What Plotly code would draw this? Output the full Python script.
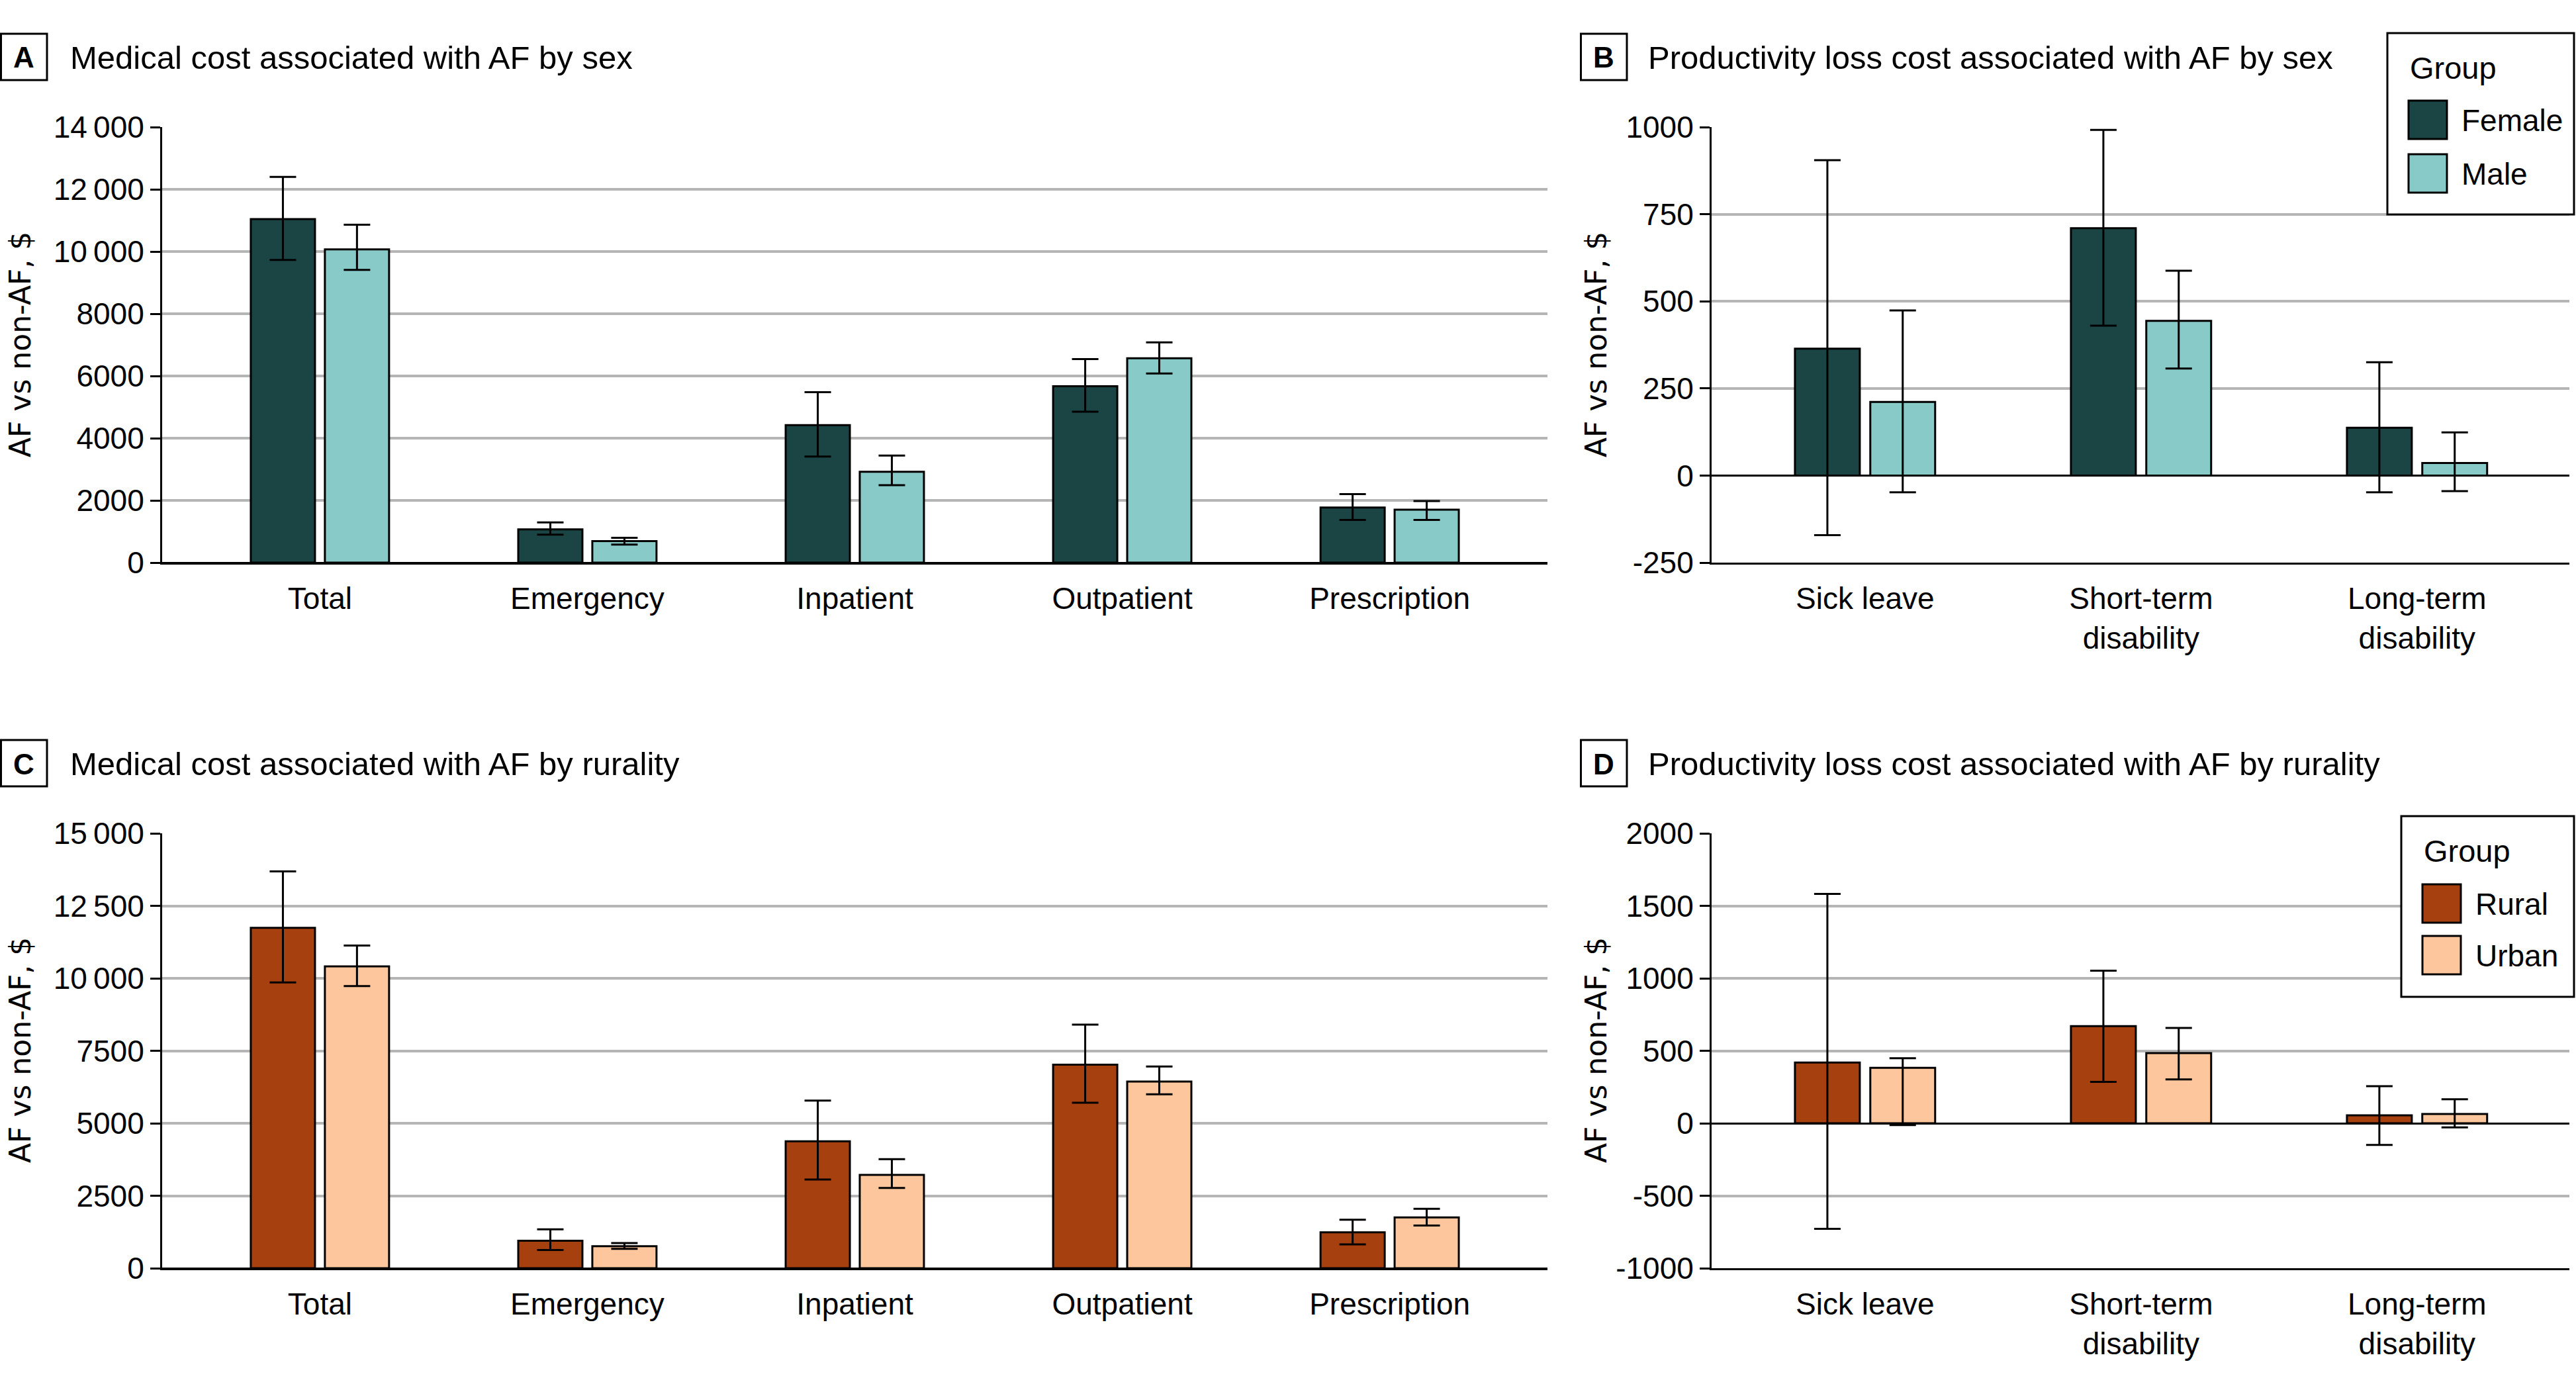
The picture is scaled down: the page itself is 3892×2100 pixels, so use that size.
import plotly.graph_objects as go

W, H = 3892, 2100

# ---------------- DATA ----------------
med_categories = ["Total", "Emergency", "Inpatient", "Outpatient", "Prescription"]
prod_categories = ["Sick leave", "Short-term<br>disability", "Long-term<br>disability"]

# Panel A: medical cost by sex
a_female = [11040, 1070, 4420, 5670, 1770]
a_female_lo = [9730, 900, 3410, 4850, 1370]
a_female_hi = [12400, 1290, 5480, 6540, 2200]
a_male = [10070, 690, 2920, 6570, 1700]
a_male_lo = [9410, 580, 2490, 6080, 1370]
a_male_hi = [10860, 800, 3440, 7080, 1980]

# Panel B: productivity loss by sex
b_female = [364, 710, 137]
b_female_lo = [-171, 430, -48]
b_female_hi = [905, 992, 325]
b_male = [211, 444, 36]
b_male_lo = [-48, 307, -45]
b_male_hi = [474, 588, 124]

# Panel C: medical cost by rurality
c_rural = [11740, 950, 4380, 7020, 1240]
c_rural_lo = [9860, 630, 3060, 5710, 820]
c_rural_hi = [13690, 1340, 5780, 8400, 1670]
c_urban = [10410, 760, 3220, 6440, 1750]
c_urban_lo = [9730, 670, 2770, 6000, 1470]
c_urban_hi = [11130, 870, 3760, 6960, 2050]

# Panel D: productivity loss by rurality
d_rural = [419, 670, 55]
d_rural_lo = [-728, 285, -149]
d_rural_hi = [1582, 1052, 256]
d_urban = [382, 484, 64]
d_urban_lo = [-12, 303, -29]
d_urban_hi = [449, 658, 166]

a_ticks = [0, 2000, 4000, 6000, 8000, 10000, 12000, 14000]
a_ticktext = ["0", "2000", "4000", "6000", "8000", "10\u2009000", "12\u2009000", "14\u2009000"]
b_ticks = [-250, 0, 250, 500, 750, 1000]
b_ticktext = ["-250", "0", "250", "500", "750", "1000"]
c_ticks = [0, 2500, 5000, 7500, 10000, 12500, 15000]
c_ticktext = ["0", "2500", "5000", "7500", "10\u2009000", "12\u2009500", "15\u2009000"]
d_ticks = [-1000, -500, 0, 500, 1000, 1500, 2000]
d_ticktext = ["-1000", "-500", "0", "500", "1000", "1500", "2000"]

FEMALE = "#1b4444"
MALE = "#88cac8"
RURAL = "#a6400f"
URBAN = "#fdc69c"

TXT = "Liberation Sans, Arial, sans-serif"
YT = "DejaVu Sans, Verdana, sans-serif"


def px(x):
    return x / W


def py(y):
    return 1 - y / H


fig = go.Figure()


def add_bars(xref, yref, cats, vals, lo, hi, color, name, offset, width):
    fig.add_trace(go.Bar(
        x=cats, y=vals, name=name, xaxis=xref, yaxis=yref,
        marker=dict(color=color, line=dict(color="black", width=3)),
        offset=offset, width=width, showlegend=False,
        error_y=dict(type="data", symmetric=False,
                     array=[h - v for h, v in zip(hi, vals)],
                     arrayminus=[v - l for v, l in zip(vals, lo)],
                     color="black", thickness=3, width=20),
    ))


bw1, gap1 = 0.24, 0.037
bw2, gap2 = 0.235, 0.038
add_bars("x", "y", med_categories, a_female, a_female_lo, a_female_hi, FEMALE, "Female", -bw1 - gap1 / 2, bw1)
add_bars("x", "y", med_categories, a_male, a_male_lo, a_male_hi, MALE, "Male", gap1 / 2, bw1)
add_bars("x2", "y2", prod_categories, b_female, b_female_lo, b_female_hi, FEMALE, "Female", -bw2 - gap2 / 2, bw2)
add_bars("x2", "y2", prod_categories, b_male, b_male_lo, b_male_hi, MALE, "Male", gap2 / 2, bw2)
add_bars("x3", "y3", med_categories, c_rural, c_rural_lo, c_rural_hi, RURAL, "Rural", -bw1 - gap1 / 2, bw1)
add_bars("x3", "y3", med_categories, c_urban, c_urban_lo, c_urban_hi, URBAN, "Urban", gap1 / 2, bw1)
add_bars("x4", "y4", prod_categories, d_rural, d_rural_lo, d_rural_hi, RURAL, "Rural", -bw2 - gap2 / 2, bw2)
add_bars("x4", "y4", prod_categories, d_urban, d_urban_lo, d_urban_hi, URBAN, "Urban", gap2 / 2, bw2)

# panel pixel boxes
top_y = (192, 850)
bot_y = (1259, 1916)
left_x = (245, 2338)
right_x = (2586, 3882)


def xax(dom, anchor, rng):
    return dict(domain=[px(dom[0]), px(dom[1])], anchor=anchor, type="category",
                range=rng, showline=True, linecolor="black", linewidth=3,
                showgrid=False, ticks="", ticklabelstandoff=12, automargin=False,
                tickfont=dict(family=TXT, size=46, color="black"), fixedrange=True)


def yax(dom, anchor, rng, tv, tt):
    return dict(domain=[py(dom[1]), py(dom[0])], anchor=anchor, range=rng,
                tickvals=tv, ticktext=tt, showline=True, linecolor="black", linewidth=3,
                ticks="outside", ticklen=15, tickwidth=3, tickcolor="black",
                showgrid=True, gridcolor="#b5b5b5", gridwidth=4, automargin=False,
                zeroline=True, zerolinecolor="black", zerolinewidth=3,
                tickfont=dict(family=TXT, size=46, color="black"), fixedrange=True)


fig.update_layout(
    width=W, height=H, margin=dict(l=0, r=0, t=0, b=0, pad=0), autosize=False,
    paper_bgcolor="white", plot_bgcolor="white",
    barmode="group", showlegend=False,
    xaxis=xax(left_x, "y", [-0.59, 4.59]),
    yaxis=yax(top_y, "x", [0, 14000], a_ticks, a_ticktext),
    xaxis2=xax(right_x, "y2", [-0.556, 2.552]),
    yaxis2=yax(top_y, "x2", [-250, 1000], b_ticks, b_ticktext),
    xaxis3=xax(left_x, "y3", [-0.59, 4.59]),
    yaxis3=yax(bot_y, "x3", [0, 15000], c_ticks, c_ticktext),
    xaxis4=xax(right_x, "y4", [-0.556, 2.552]),
    yaxis4=yax(bot_y, "x4", [-1000, 2000], d_ticks, d_ticktext),
)

shapes = []
annots = []

# panel titles with boxed letters
panels = [
    ("A", "Medical cost associated with AF by sex", 0, 51, 104),
    ("B", "Productivity loss cost associated with AF by sex", 2387, 51, 2488),
    ("C", "Medical cost associated with AF by rurality", 0, 1118, 104),
    ("D", "Productivity loss cost associated with AF by rurality", 2387, 1118, 2488),
]
for letter, title, bx, by, tx in panels:
    shapes.append(dict(type="rect", xref="paper", yref="paper",
                       x0=px(bx + 1.5), x1=px(bx + 71), y0=py(by + 70), y1=py(by),
                       line=dict(color="black", width=3), fillcolor="white"))
    annots.append(dict(text="<b>%s</b>" % letter, xref="paper", yref="paper",
                       x=px(bx + 36), y=py(by + 36), xanchor="center", yanchor="middle",
                       showarrow=False, font=dict(family=TXT, size=44, color="black")))
    annots.append(dict(text=title, xref="paper", yref="paper",
                       x=px(tx), y=py(by + 36), xanchor="left", yanchor="middle",
                       showarrow=False, font=dict(family=TXT, size=49, color="black")))

# y-axis titles
for xc, yc in [(30, 521), (2411, 521), (30, 1587), (2411, 1587)]:
    annots.append(dict(text="AF vs non-AF, $", xref="paper", yref="paper",
                       x=px(xc), y=py(yc), xanchor="center", yanchor="middle",
                       textangle=-90, showarrow=False,
                       font=dict(family=YT, size=44, color="black")))

# legends (drawn as boxes with swatches)
legends = [
    (3607, 50, 324, [("Female", FEMALE, 152), ("Male", MALE, 233)], 3639),
    (3628, 1233, 1506, [("Rural", RURAL, 1336), ("Urban", URBAN, 1414)], 3660),
]
for lx, ly0, ly1, items, sx in legends:
    shapes.append(dict(type="rect", xref="paper", yref="paper",
                       x0=px(lx), x1=px(3889), y0=py(ly1), y1=py(ly0),
                       line=dict(color="black", width=3), fillcolor="white"))
    annots.append(dict(text="Group", xref="paper", yref="paper",
                       x=px(sx), y=py(ly0 + 52), xanchor="left", yanchor="middle",
                       showarrow=False, font=dict(family=TXT, size=47, color="black")))
    for name, col, sy in items:
        shapes.append(dict(type="rect", xref="paper", yref="paper",
                           x0=px(sx), x1=px(sx + 58), y0=py(sy + 58), y1=py(sy),
                           line=dict(color="black", width=3), fillcolor=col))
        annots.append(dict(text=name, xref="paper", yref="paper",
                           x=px(sx + 78), y=py(sy + 30), xanchor="left", yanchor="middle",
                           showarrow=False, font=dict(family=TXT, size=46, color="black")))

fig.update_layout(shapes=shapes, annotations=annots)
fig.write_html("out.html")
